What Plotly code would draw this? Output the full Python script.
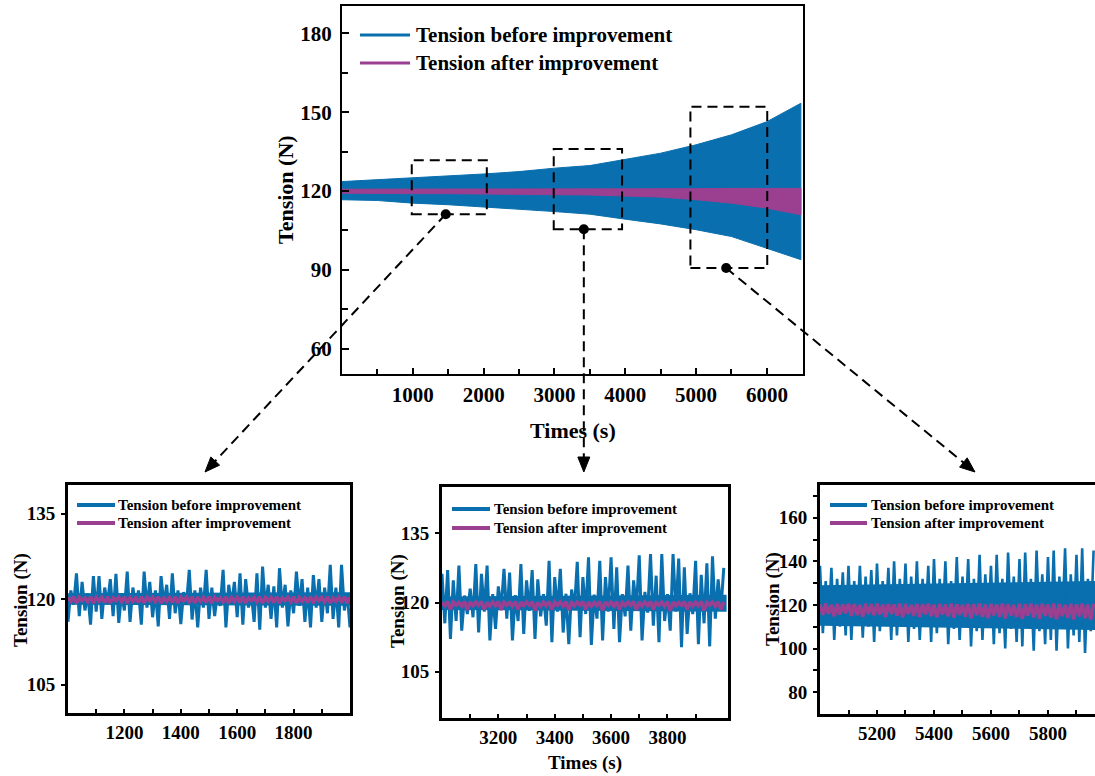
import numpy as np
import plotly.graph_objects as go

W, H = 1095, 776
BLUE = '#0a6fae'
PURPLE = '#9b3f90'
SERIF = 'Liberation Serif'

# ---------------- data ----------------
main_time = [0, 500, 1000, 1500, 2000, 2500, 3000, 3500, 4000, 4500, 5000, 5500, 6000, 6480]
main_before_upper = [123.6, 124.3, 124.9, 125.8, 126.5, 127.4, 128.7, 129.7, 132.1, 134.4, 137.6, 141.4, 146.4, 153.4]
main_before_lower = [116.7, 116.4, 115.4, 114.8, 114.1, 113.1, 112.2, 111.2, 109.3, 107.5, 105.3, 102.7, 98.3, 93.9]
main_after_upper = [120.7, 120.7, 120.7, 120.7, 120.7, 120.7, 120.8, 120.8, 120.8, 120.9, 120.9, 121.0, 121.0, 121.0]
main_after_lower = [119.2, 119.2, 119.0, 119.0, 118.9, 118.8, 118.6, 118.5, 118.2, 117.7, 116.7, 115.4, 113.5, 111.0]

main_xticks = [1000, 2000, 3000, 4000, 5000, 6000]
main_xminor = [500, 1500, 2500, 3500, 4500, 5500]
main_yticks = [60, 90, 120, 150, 180]
main_yminor = [75, 105, 135, 165]

zoom_x0 = [985, 2990, 4920]
zoom_x1 = [2045, 3955, 6005]
zoom_y0 = [111.2, 105.5, 90.7]
zoom_y1 = [131.7, 136.0, 152.1]
marker_x = [1465, 3415, 5425]

# inset 1 (1000-2000 s), samples every 10 s, troughs / peaks
in1_start, in1_step = 1000, 10
in1_before_lo = [116.0, 119.0, 117.0, 118.0, 115.5, 117.8, 116.5, 119.2, 117.0, 115.8,
                 118.0, 116.0, 119.0, 115.5, 118.5, 116.8, 115.2, 119.0, 116.5, 117.5,
                 115.6, 119.0, 116.4, 115.0, 118.5, 116.5, 117.0, 118.8, 115.0, 119.0,
                 116.8, 115.5, 118.5, 116.0, 114.6, 118.5, 116.5, 115.0, 118.5, 115.2,
                 117.5, 118.8, 116.0, 115.0, 118.5, 116.0, 117.5, 116.5, 115.0, 118.0, 115.0]
in1_before_hi = [121.5, 124.5, 123.0, 121.0, 124.0, 124.0, 122.0, 123.5, 124.4, 121.0,
                 124.8, 122.0, 121.5, 124.8, 123.0, 121.5, 124.0, 122.5, 124.5, 121.5,
                 121.2, 125.1, 121.5, 122.0, 125.1, 122.0, 121.0, 125.1, 122.5, 123.0,
                 124.5, 123.5, 121.0, 124.5, 125.7, 122.5, 122.2, 125.4, 122.5, 121.5,
                 124.8, 123.5, 122.0, 124.2, 123.5, 122.0, 126.0, 122.0, 126.0, 121.0]
in1_core_time = [1000, 1500, 2000]
in1_core_upper = [121.0, 121.1, 121.2]
in1_core_lower = [119.0, 118.9, 118.8]
in1_after_hi = [120.3, 120.4, 120.3, 120.2, 120.4, 120.3, 120.3, 120.4, 120.2, 120.3,
                120.4, 120.3, 120.2, 120.4, 120.3, 120.3, 120.4, 120.2, 120.3, 120.4,
                120.3, 120.3, 120.4, 120.2, 120.3, 120.4, 120.3, 120.2, 120.4, 120.3,
                120.3, 120.4, 120.2, 120.3, 120.4, 120.3, 120.3, 120.4, 120.2, 120.3,
                120.4, 120.3, 120.2, 120.4, 120.3, 120.3, 120.4, 120.2, 120.3, 120.4, 120.3]
in1_after_lo = [119.6, 119.3, 119.7, 119.5, 119.3, 119.6, 119.4, 119.3, 119.7, 119.5,
                119.3, 119.6, 119.4, 119.3, 119.7, 119.5, 119.3, 119.6, 119.4, 119.3,
                119.7, 119.5, 119.3, 119.6, 119.4, 119.3, 119.7, 119.5, 119.3, 119.6,
                119.4, 119.3, 119.7, 119.5, 119.3, 119.6, 119.4, 119.3, 119.7, 119.5,
                119.3, 119.6, 119.4, 119.3, 119.7, 119.5, 119.3, 119.6, 119.4, 119.3]

# inset 2 (3000-4000 s)
in2_start, in2_step = 3000, 10
in2_before_hi = [126.2, 127.0, 124.8, 128.0, 121.5, 123.0, 128.3, 126.2, 128.0, 121.8,
                 123.5, 127.3, 126.5, 121.6, 128.3, 124.8, 127.0, 125.0, 121.8, 129.0,
                 125.5, 127.3, 121.9, 122.8, 128.8, 125.5, 129.8, 121.7, 129.0, 125.5,
                 129.8, 127.6, 121.8, 128.0, 124.8, 130.2, 122.3, 130.5, 125.8, 130.5,
                 121.8, 130.5, 129.5, 127.6, 122.0, 129.0, 126.0, 128.5, 130.0, 125.0, 127.5]
in2_before_lo = [115.5, 112.1, 116.0, 113.9, 117.5, 116.8, 113.5, 118.0, 111.8, 114.3,
                 118.5, 116.5, 111.8, 116.0, 113.2, 118.2, 112.1, 117.0, 115.0, 111.4,
                 118.0, 113.5, 111.0, 118.5, 112.5, 117.5, 110.8, 116.5, 111.8, 118.0,
                 114.3, 111.4, 117.0, 113.9, 118.5, 111.8, 117.8, 115.0, 111.4, 116.0,
                 113.9, 118.0, 110.3, 113.2, 117.5, 111.0, 115.5, 110.5, 116.5, 118.5]
in2_core_time = [3000, 3500, 4010]
in2_core_upper = [121.3, 121.5, 121.7]
in2_core_lower = [118.4, 118.2, 118.0]
in2_after_hi = [120.1, 120.2, 120.1, 120.0, 120.2, 120.1, 120.1, 120.2, 120.0, 120.1,
                120.2, 120.1, 120.0, 120.2, 120.1, 120.1, 120.2, 120.0, 120.1, 120.2,
                120.1, 120.1, 120.2, 120.0, 120.1, 120.2, 120.1, 120.0, 120.2, 120.1,
                120.1, 120.2, 120.0, 120.1, 120.2, 120.1, 120.1, 120.2, 120.0, 120.1,
                120.2, 120.1, 120.0, 120.2, 120.1, 120.1, 120.2, 120.0, 120.1, 120.2, 120.1]
in2_after_lo = [119.3, 118.5, 119.4, 119.2, 118.4, 119.3, 119.4, 118.5, 119.2, 119.3,
                118.4, 119.4, 119.2, 118.5, 119.3, 119.4, 118.3, 119.2, 119.3, 118.5,
                119.4, 119.2, 118.4, 119.3, 119.4, 118.5, 119.2, 119.3, 118.3, 119.4,
                119.2, 118.5, 119.3, 119.4, 118.4, 119.2, 119.3, 118.5, 119.4, 119.2,
                118.2, 119.3, 119.4, 118.5, 119.2, 119.3, 118.3, 119.4, 119.2, 118.5]

# inset 3 (5000-5960 s)
in3_start, in3_step = 5000, 10
in3_before_hi = [138, 131, 137, 132, 135, 138, 131, 138, 133, 136,
                 139, 131, 137, 140, 132, 139, 133, 140, 132, 138,
                 141, 132, 140, 131, 142, 133, 141, 132, 143, 134,
                 138, 143, 132, 144, 133, 141, 144, 132, 145, 134,
                 142, 145, 133, 146, 134, 143, 146, 132, 145]
in3_before_lo = [107, 111, 104, 110, 106, 104, 111, 105, 110, 103,
                 108, 111, 104, 106, 110, 103, 109, 104, 111, 103,
                 107, 110, 102, 109, 104, 111, 101, 108, 104, 110,
                 102, 107, 100, 109, 103, 101, 110, 99, 108, 102,
                 104, 99, 110, 100, 106, 103, 98, 108]
in3_core_time = [5000, 5500, 5970]
in3_core_upper = [129.0, 130.0, 131.0]
in3_core_lower = [110.5, 109.5, 108.5]
in3_after_hi = [120.3, 120.6, 120.1, 120.5, 120.2, 120.6, 120.4, 120.0, 120.5, 120.3,
                120.6, 120.1, 120.5, 120.2, 120.6, 120.4, 120.0, 120.5, 120.3, 120.6,
                120.1, 120.5, 120.2, 120.6, 120.4, 120.0, 120.5, 120.3, 120.6, 120.1,
                120.5, 120.2, 120.6, 120.4, 120.0, 120.5, 120.3, 120.6, 120.1, 120.5,
                120.2, 120.6, 120.4, 120.0, 120.5, 120.3, 120.6, 120.1, 120.5]
in3_after_lo = [115.5, 116.0, 114.8, 115.6, 116.2, 115.0, 115.4, 114.5, 116.0, 115.2,
                115.6, 114.6, 115.9, 115.1, 114.4, 115.8, 115.0, 114.5, 115.7, 114.9,
                114.3, 115.6, 114.8, 114.2, 115.5, 114.7, 114.0, 115.4, 114.6, 113.9,
                115.3, 114.5, 113.8, 115.2, 114.4, 113.7, 115.1, 114.3, 113.6, 115.0,
                114.2, 113.5, 114.9, 114.1, 113.4, 114.8, 114.0, 113.3]

inset_ranges_x = [[1000, 2000], [3000, 4015], [5000, 5965]]
inset_ranges_y = [[100, 140], [95, 145], [70, 175]]
inset_xticks = [[1200, 1400, 1600, 1800], [3200, 3400, 3600, 3800], [5200, 5400, 5600, 5800]]
inset_xminor = [[1100, 1300, 1500, 1700, 1900], [3100, 3300, 3500, 3700, 3900], [5100, 5300, 5500, 5700, 5900]]
inset_yticks = [[105, 120, 135], [105, 120, 135], [80, 100, 120, 140, 160]]
inset_yminor = [[], [], [90, 110, 130, 150, 170]]

LABEL_BEFORE = 'Tension before improvement'
LABEL_AFTER = 'Tension after improvement'


def interleave(a, b):
    out = []
    for i in range(len(a)):
        out.append(a[i])
        if i < len(b):
            out.append(b[i])
    return out


def times(start, step, n):
    return [start + step * i for i in range(n)]


# ---------------- layout geometry (pixels) ----------------
MAIN = dict(x0=342, x1=803, y0=6, y1=374)
INSETS = [dict(x0=68, x1=350, y0=485, y1=713),
          dict(x0=442, x1=728, y0=487, y1=718),
          dict(x0=820, x1=1095, y0=485, y1=714)]


def px2paper(px, py):
    return px / W, 1 - py / H


fig = go.Figure()

# main chart bands
fig.add_trace(go.Scatter(x=main_time + main_time[::-1], y=main_before_upper + main_before_lower[::-1],
                         fill='toself', fillcolor=BLUE, mode='lines', line=dict(color=BLUE, width=1),
                         xaxis='x', yaxis='y', showlegend=False, hoverinfo='skip'))
fig.add_trace(go.Scatter(x=main_time + main_time[::-1], y=main_after_upper + main_after_lower[::-1],
                         fill='toself', fillcolor=PURPLE, mode='lines', line=dict(color=PURPLE, width=1),
                         xaxis='x', yaxis='y', showlegend=False, hoverinfo='skip'))

insets_data = [
    (in1_start, in1_step, interleave(in1_before_lo, in1_before_hi), interleave(in1_after_hi, in1_after_lo),
     in1_core_time, in1_core_upper, in1_core_lower, 3.0),
    (in2_start, in2_step, interleave(in2_before_hi, in2_before_lo), interleave(in2_after_hi, in2_after_lo),
     in2_core_time, in2_core_upper, in2_core_lower, 3.0),
    (in3_start, in3_step, interleave(in3_before_hi, in3_before_lo), interleave(in3_after_hi, in3_after_lo),
     in3_core_time, in3_core_upper, in3_core_lower, 2.6),
]
for k, (st, sp, before, after, ct, cu, cl, lw) in enumerate(insets_data):
    ax = str(k + 2)
    fig.add_trace(go.Scatter(x=ct + ct[::-1], y=cu + cl[::-1], fill='toself', fillcolor=BLUE, mode='lines',
                             line=dict(color=BLUE, width=0), xaxis='x' + ax, yaxis='y' + ax,
                             showlegend=False, hoverinfo='skip'))
    fig.add_trace(go.Scatter(x=times(st, sp, len(before)), y=before, mode='lines',
                             line=dict(color=BLUE, width=lw), xaxis='x' + ax, yaxis='y' + ax,
                             showlegend=False, hoverinfo='skip'))
    fig.add_trace(go.Scatter(x=times(st, sp, len(after)), y=after, mode='lines',
                             line=dict(color=PURPLE, width=3.5), xaxis='x' + ax, yaxis='y' + ax,
                             showlegend=False, hoverinfo='skip'))

# markers (dots) on the box bottoms
fig.add_trace(go.Scatter(x=marker_x, y=zoom_y0, mode='markers', marker=dict(color='black', size=10),
                         xaxis='x', yaxis='y', showlegend=False, hoverinfo='skip', cliponaxis=False))

main_range_x = [0, 6510]
main_range_y = [50.4, 190.4]


def main_data_to_px(x, y):
    px = MAIN['x0'] + (x - main_range_x[0]) / (main_range_x[1] - main_range_x[0]) * (MAIN['x1'] - MAIN['x0'])
    py = MAIN['y1'] - (y - main_range_y[0]) / (main_range_y[1] - main_range_y[0]) * (MAIN['y1'] - MAIN['y0'])
    return px, py


tick_font_main = dict(family=SERIF, size=21, color='black', weight='bold')
tick_font_in = dict(family=SERIF, size=19, color='black', weight='bold')

layout = dict(
    width=W, height=H, margin=dict(l=0, r=0, t=0, b=0),
    paper_bgcolor='white', plot_bgcolor='white', showlegend=False,
    xaxis=dict(domain=[MAIN['x0'] / W, MAIN['x1'] / W], range=main_range_x, anchor='y',
               showline=True, linecolor='black', linewidth=2, mirror=True, showgrid=False, zeroline=False,
               ticks='inside', ticklen=6, tickwidth=2, tickcolor='black', tickmode='array',
               tickvals=main_xticks, tickfont=tick_font_main, ticklabelstandoff=1,
               minor=dict(ticks='inside', tickmode='array', tickvals=main_xminor, ticklen=5, tickwidth=2,
                          tickcolor='black', showgrid=False)),
    yaxis=dict(domain=[1 - MAIN['y1'] / H, 1 - MAIN['y0'] / H], range=main_range_y, anchor='x',
               showline=True, linecolor='black', linewidth=2, mirror=True, showgrid=False, zeroline=False,
               ticks='inside', ticklen=7, tickwidth=2, tickcolor='black', tickmode='array',
               tickvals=main_yticks, tickfont=tick_font_main, ticklabelstandoff=4,
               minor=dict(ticks='inside', tickmode='array', tickvals=main_yminor, ticklen=6, tickwidth=2,
                          tickcolor='black', showgrid=False)),
)
for k, g in enumerate(INSETS):
    ax = str(k + 2)
    layout['xaxis' + ax] = dict(
        domain=[g['x0'] / W, min(g['x1'] / W, 1.0)], range=inset_ranges_x[k], anchor='y' + ax,
        showline=True, linecolor='black', linewidth=3, mirror=True, showgrid=False, zeroline=False,
        ticks='inside', ticklen=4, tickwidth=2, tickcolor='black', tickmode='array',
        tickvals=inset_xticks[k], tickfont=tick_font_in, ticklabelstandoff=0,
        minor=dict(ticks='inside', tickmode='array', tickvals=inset_xminor[k], ticklen=4, tickwidth=2,
                   tickcolor='black', showgrid=False))
    layout['yaxis' + ax] = dict(
        domain=[1 - g['y1'] / H, 1 - g['y0'] / H], range=inset_ranges_y[k], anchor='x' + ax,
        showline=True, linecolor='black', linewidth=3, mirror=(k < 2), showgrid=False, zeroline=False,
        ticks='outside', ticklen=4, tickwidth=2, tickcolor='black', tickmode='array',
        tickvals=inset_yticks[k], tickfont=tick_font_in, ticklabelstandoff=2,
        minor=dict(ticks='outside', tickmode='array', tickvals=inset_yminor[k], ticklen=4, tickwidth=2,
                   tickcolor='black', showgrid=False))

shapes = []
annotations = []

# dashed zoom boxes
for i in range(3):
    shapes.append(dict(type='rect', xref='x', yref='y', x0=zoom_x0[i], x1=zoom_x1[i], y0=zoom_y0[i],
                       y1=zoom_y1[i], line=dict(color='black', width=2, dash='10px,6px'), layer='above'))

# dashed arrows with filled heads
tips = [(205, 472), (None, 472), (975, 472)]
for i in range(3):
    sx, sy = main_data_to_px(marker_x[i], zoom_y0[i])
    tx, ty = tips[i]
    if tx is None:
        tx = sx
    dx, dy = tx - sx, ty - sy
    L = (dx ** 2 + dy ** 2) ** 0.5
    ux, uy = dx / L, dy / L
    hl, hw = 15, 6
    bx, by = tx - ux * hl, ty - uy * hl
    a = px2paper(sx, sy)
    b = px2paper(bx + ux * 2, by + uy * 2)
    shapes.append(dict(type='line', xref='paper', yref='paper', x0=a[0], y0=a[1], x1=b[0], y1=b[1],
                       line=dict(color='black', width=2, dash='10px,6px'), layer='above'))
    p1 = px2paper(tx, ty)
    p2 = px2paper(bx - uy * hw, by + ux * hw)
    p3 = px2paper(bx + uy * hw, by - ux * hw)
    path = 'M {:.5f} {:.5f} L {:.5f} {:.5f} L {:.5f} {:.5f} Z'.format(p1[0], p1[1], p2[0], p2[1], p3[0], p3[1])
    shapes.append(dict(type='path', xref='paper', yref='paper', path=path, fillcolor='black',
                       line=dict(color='black', width=1), layer='above'))


def legend(x_line0, x_line1, x_text, y_rows, size, lw):
    for (label, color), yy in zip([(LABEL_BEFORE, BLUE), (LABEL_AFTER, PURPLE)], y_rows):
        p0 = px2paper(x_line0, yy)
        p1 = px2paper(x_line1, yy)
        shapes.append(dict(type='line', xref='paper', yref='paper', x0=p0[0], y0=p0[1], x1=p1[0], y1=p1[1],
                           line=dict(color=color, width=lw), layer='above'))
        pt = px2paper(x_text, yy)
        annotations.append(dict(xref='paper', yref='paper', x=pt[0], y=pt[1], xanchor='left', yanchor='middle',
                                text='<b>' + label + '</b>', showarrow=False,
                                font=dict(family=SERIF, size=size, color='black')))


legend(360, 410, 414, [35, 63], 21, 3)
legend(77, 115, 116, [505, 523], 15, 4)
legend(452, 490, 492, [509, 528], 15, 4)
legend(830, 867, 869, [505, 523], 15, 4)


def text(px, py, s, size, angle=0):
    p = px2paper(px, py)
    annotations.append(dict(xref='paper', yref='paper', x=p[0], y=p[1], xanchor='center', yanchor='middle',
                            text='<b>' + s + '</b>', showarrow=False, textangle=angle,
                            font=dict(family=SERIF, size=size, color='black')))


text(285, 190, 'Tension (N)', 22, -90)
text(573, 430, 'Times (s)', 22)
text(21, 600, 'Tension (N)', 19, -90)
text(398, 601, 'Tension (N)', 19, -90)
text(773, 599, 'Tension (N)', 19, -90)
text(585, 763, 'Times (s)', 19)

layout['shapes'] = shapes
layout['annotations'] = annotations
fig.update_layout(**layout)
fig.write_html('out.html')
